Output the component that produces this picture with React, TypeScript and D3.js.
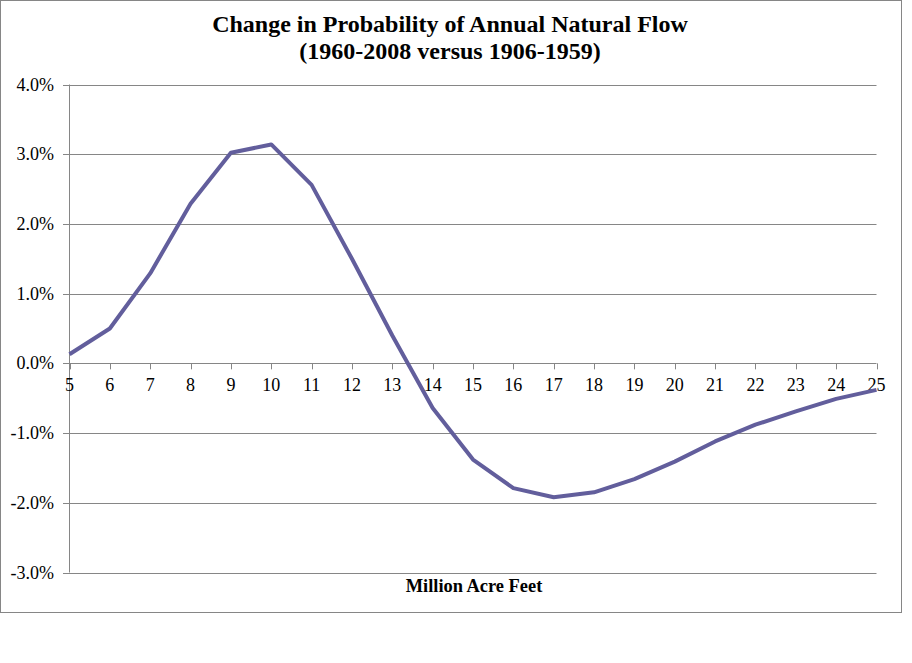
import * as d3 from "d3";
import React from "react";

// flow in million acre feet vs change in probability (%)
const flows = [5, 6, 7, 8, 9, 10, 11, 12, 13, 14, 15, 16, 17, 18, 19, 20, 21, 22, 23, 24, 25];
const changes = [
  0.13, 0.5, 1.29, 2.29, 3.02, 3.14, 2.56, 1.5, 0.4, -0.64, -1.38, -1.79, -1.92, -1.85, -1.66,
  -1.41, -1.12, -0.88, -0.69, -0.51, -0.38,
];
const yTicks = [-3, -2, -1, 0, 1, 2, 3, 4];
const titleLines = ["Change in Probability of Annual Natural Flow", "(1960-2008 versus 1906-1959)"];
const xTitle = "Million Acre Feet";

const W = 912;
const H = 663;
const serif = "'Liberation Serif', 'Times New Roman', serif";
const gridColor = "#868686";

export default function App() {
  const x = d3.scaleLinear().domain([5, 25]).range([69.5, 876.5]);
  const y = d3.scaleLinear().domain([-3, 4]).range([572.5, 84.5]);

  const line = d3
    .line<number>()
    .x((_, i) => x(flows[i]))
    .y((d) => y(d));

  const zeroY = y(0);

  return (
    <svg
      width={W}
      height={H}
      style={{ position: "absolute", left: 0, top: 0, background: "#fff" }}
      fontFamily={serif}
    >
      {/* outer chart border */}
      <rect x={0.5} y={0.5} width={901} height={612} fill="#fff" stroke={gridColor} />

      {/* title */}
      {titleLines.map((t, i) => (
        <text key={t} x={450} y={32 + i * 27} textAnchor="middle" fontSize={24} fontWeight="bold">
          {t}
        </text>
      ))}

      {/* gridlines + y ticks */}
      {yTicks.map((v) => (
        <g key={v}>
          <line x1={63} x2={876.5} y1={Math.round(y(v)) + 0.5} y2={Math.round(y(v)) + 0.5} stroke={gridColor} />
          <text x={54} y={y(v) + 6} textAnchor="end" fontSize={18}>
            {v.toFixed(1) + "%"}
          </text>
        </g>
      ))}

      {/* y axis */}
      <line x1={69.5} x2={69.5} y1={y(4)} y2={y(-3)} stroke={gridColor} />

      {/* x ticks on zero line */}
      {flows.map((f) => (
        <g key={f}>
          <line
            x1={Math.round(x(f)) + 0.5}
            x2={Math.round(x(f)) + 0.5}
            y1={zeroY}
            y2={zeroY + 6}
            stroke={gridColor}
          />
          <text x={x(f)} y={391} textAnchor="middle" fontSize={18}>
            {f}
          </text>
        </g>
      ))}

      {/* data line */}
      <path d={line(changes) ?? ""} fill="none" stroke="#625e9c" strokeWidth={4} strokeLinejoin="round" />

      {/* x axis title */}
      <text x={474} y={592} textAnchor="middle" fontSize={18.4} fontWeight="bold">
        {xTitle}
      </text>
    </svg>
  );
}
